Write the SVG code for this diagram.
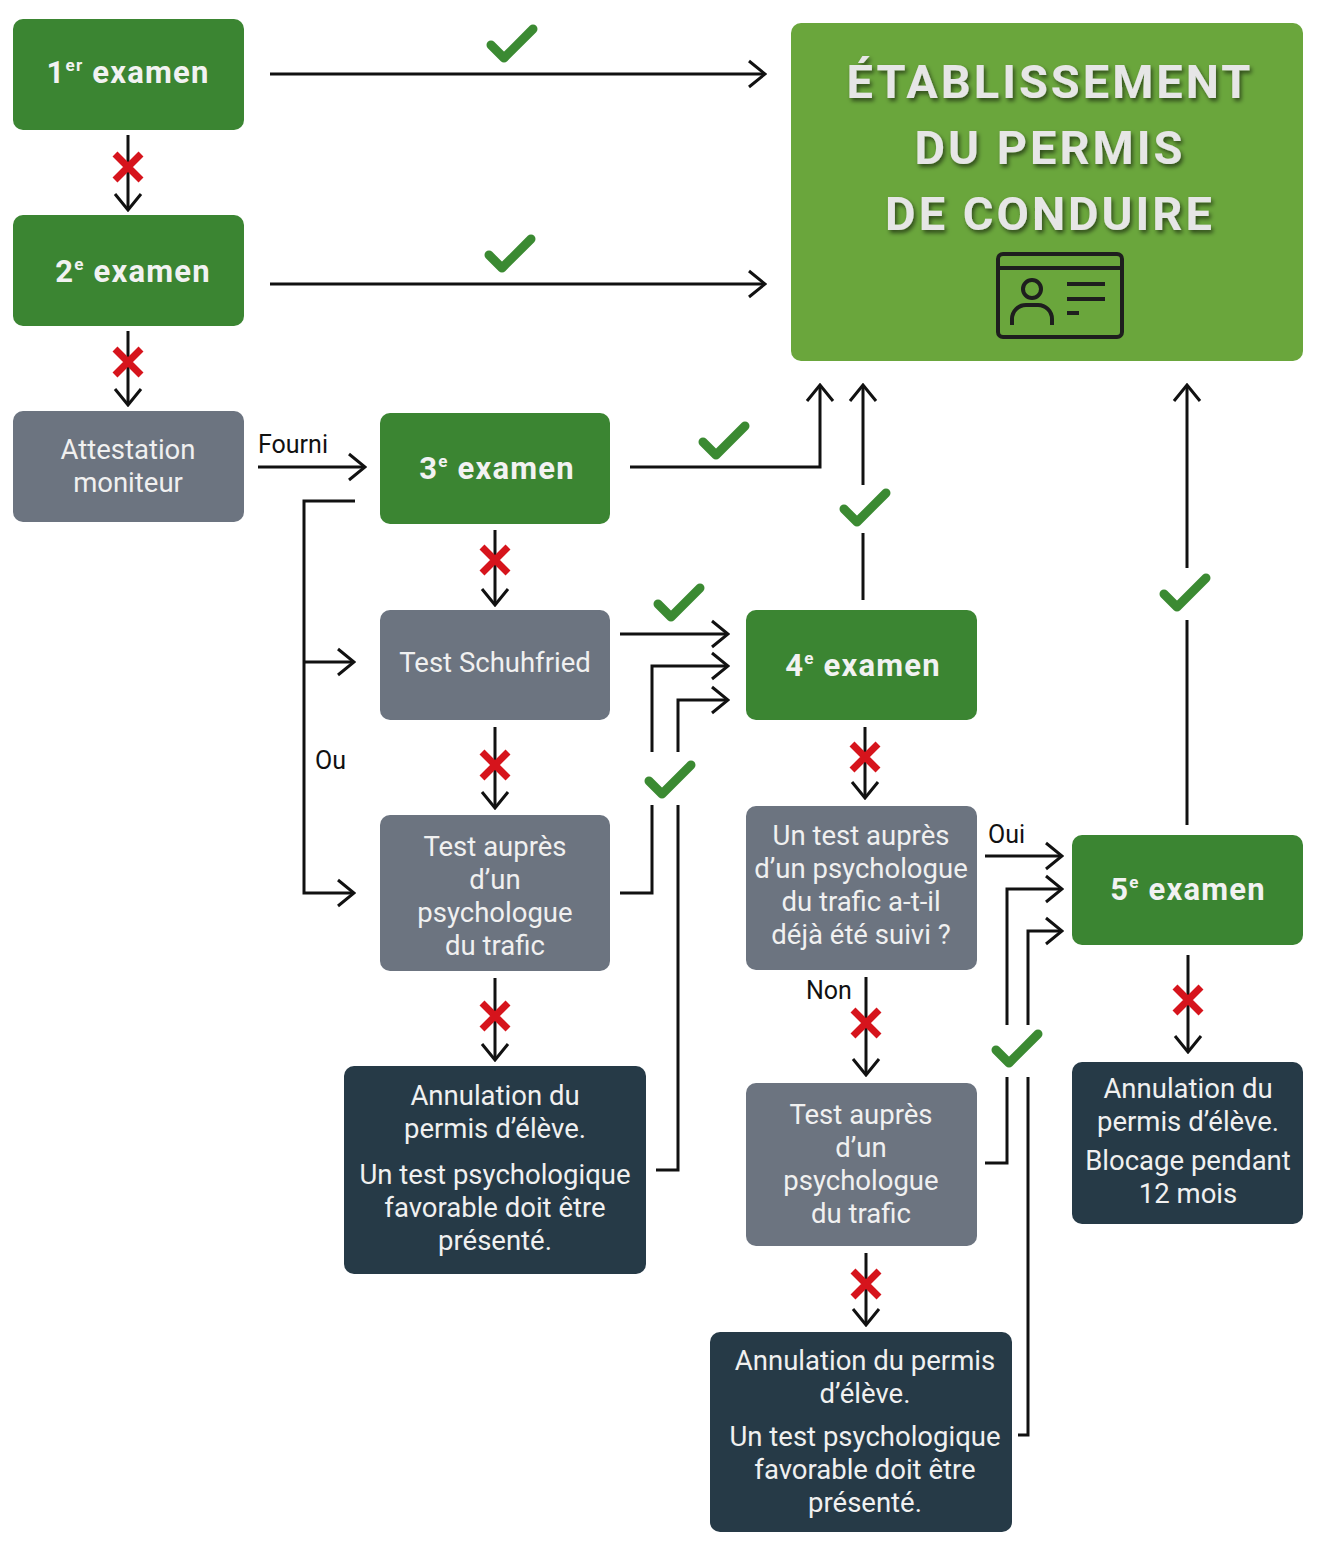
<svg xmlns="http://www.w3.org/2000/svg" width="1320" height="1548" viewBox="0 0 1320 1548">
<style>
.dg{fill:#3b8532}.lg{fill:#6aa63c}.gr{fill:#6c7480}.nv{fill:#263a47}
.t{font-family:Roboto,"Liberation Sans",sans-serif;text-anchor:middle;fill:#f0f0f0;font-size:27.5px}
.b{font-weight:bold;font-size:31px;letter-spacing:1.2px;fill:#f2f2f2}
.l{font-family:Roboto,"Liberation Sans",sans-serif;font-size:25px;fill:#111}
.c{fill:none;stroke:#111;stroke-width:3}
.ck{fill:none;stroke:#3b8a32;stroke-width:9;stroke-linecap:round;stroke-linejoin:round}
.x{stroke:#d6141c;stroke-width:7}
</style>
<defs>
<marker id="a" viewBox="0 0 20 30" refX="18" refY="15" markerWidth="20" markerHeight="30" markerUnits="userSpaceOnUse" orient="auto"><path d="M2,2 L18,15 L2,28" fill="none" stroke="#111" stroke-width="3"/></marker>
<symbol id="ck" overflow="visible"><path class="ck" d="M-21,0 L-8,13 L21,-16"/></symbol>
<symbol id="x" overflow="visible"><path class="x" d="M-13,-13 L13,13 M13,-13 L-13,13"/></symbol>
<filter id="sh"><feDropShadow dx="2" dy="3" stdDeviation="2" flood-color="#000" flood-opacity="0.55"/></filter>
</defs>
<rect width="1320" height="1548" fill="#fff"/>
<g id="n1"><rect class="dg" x="13" y="19" width="231" height="111" rx="10"/><text class="t b" x="128" y="83">1<tspan font-size="17" dy="-12">er</tspan><tspan dy="12"> examen</tspan></text></g>
<g id="n2"><rect class="dg" x="13" y="215" width="231" height="111" rx="10"/><text class="t b" x="133" y="282">2<tspan font-size="17" dy="-12">e</tspan><tspan dy="12"> examen</tspan></text></g>
<g id="att"><rect class="gr" x="13" y="411" width="231" height="111" rx="10"/><text class="t" x="128" y="459">Attestation</text><text class="t" x="128" y="492">moniteur</text></g>
<g id="target"><rect class="lg" x="791" y="23" width="512" height="338" rx="10"/>
<g font-family="Roboto,'Liberation Sans',sans-serif" font-weight="bold" font-size="47" letter-spacing="3" fill="#e6e6e6" text-anchor="middle" filter="url(#sh)"><text x="1050" y="98">ÉTABLISSEMENT</text><text x="1050" y="164">DU PERMIS</text><text x="1050" y="230">DE CONDUIRE</text></g>
<g fill="none" stroke="#1e1e1e" stroke-width="4"><rect x="998" y="254" width="124" height="83" rx="5"/><line x1="998" y1="268" x2="1122" y2="268"/><circle cx="1032" cy="289" r="9"/><path d="M1012,325 v-6 a14,14 0 0 1 14,-14 h12 a14,14 0 0 1 14,14 v6"/><path d="M1067,284 h38 M1067,299 h38 M1067,313 h12"/></g></g>
<g id="n3"><rect class="dg" x="380" y="413" width="230" height="111" rx="10"/><text class="t b" x="497" y="479">3<tspan font-size="17" dy="-12">e</tspan><tspan dy="12"> examen</tspan></text></g>
<g id="schuh"><rect class="gr" x="380" y="610" width="230" height="110" rx="10"/><text class="t" x="495" y="672">Test Schuhfried</text></g>
<g id="psy1"><rect class="gr" x="380" y="815" width="230" height="156" rx="10"/><text class="t" x="495" y="856">Test auprès</text><text class="t" x="495" y="889">d’un</text><text class="t" x="495" y="922">psychologue</text><text class="t" x="495" y="955">du trafic</text></g>
<g id="ann1"><rect class="nv" x="344" y="1066" width="302" height="208" rx="10"/><text class="t" x="495" y="1105">Annulation du</text><text class="t" x="495" y="1138">permis d’élève.</text><text class="t" x="495" y="1184">Un test psychologique</text><text class="t" x="495" y="1217">favorable doit être</text><text class="t" x="495" y="1250">présenté.</text></g>
<g id="n4"><rect class="dg" x="746" y="610" width="231" height="110" rx="10"/><text class="t b" x="863" y="676">4<tspan font-size="17" dy="-12">e</tspan><tspan dy="12"> examen</tspan></text></g>
<g id="q"><rect class="gr" x="746" y="806" width="231" height="164" rx="10"/><text class="t" x="861" y="845">Un test auprès</text><text class="t" x="861" y="878">d’un psychologue</text><text class="t" x="861" y="911">du trafic a-t-il</text><text class="t" x="861" y="944">déjà été suivi ?</text></g>
<g id="psy2"><rect class="gr" x="746" y="1083" width="231" height="163" rx="10"/><text class="t" x="861" y="1124">Test auprès</text><text class="t" x="861" y="1157">d’un</text><text class="t" x="861" y="1190">psychologue</text><text class="t" x="861" y="1223">du trafic</text></g>
<g id="ann2"><rect class="nv" x="710" y="1332" width="302" height="200" rx="10"/><text class="t" x="865" y="1370">Annulation du permis</text><text class="t" x="865" y="1403">d’élève.</text><text class="t" x="865" y="1446">Un test psychologique</text><text class="t" x="865" y="1479">favorable doit être</text><text class="t" x="865" y="1512">présenté.</text></g>
<g id="n5"><rect class="dg" x="1072" y="835" width="231" height="110" rx="10"/><text class="t b" x="1188" y="900">5<tspan font-size="17" dy="-12">e</tspan><tspan dy="12"> examen</tspan></text></g>
<g id="ann3"><rect class="nv" x="1072" y="1062" width="231" height="162" rx="10"/><text class="t" x="1188" y="1098">Annulation du</text><text class="t" x="1188" y="1131">permis d’élève.</text><text class="t" x="1188" y="1170">Blocage pendant</text><text class="t" x="1188" y="1203">12 mois</text></g>
<g id="connectors">
<path class="c" marker-end="url(#a)" d="M270,74 H765"/><use href="#ck" x="512" y="45"/>
<path class="c" marker-end="url(#a)" d="M270,284 H765"/><use href="#ck" x="510" y="255"/>
<path class="c" marker-end="url(#a)" d="M128,135 V210"/><use href="#x" x="128" y="167"/>
<path class="c" marker-end="url(#a)" d="M128,331 V405"/><use href="#x" x="128" y="362"/>
<path class="c" marker-end="url(#a)" d="M258,467 H365"/><text class="l" x="258" y="453">Fourni</text>
<path class="c" marker-end="url(#a)" d="M630,467 H820 V385"/><use href="#ck" x="724" y="442"/>
<path class="c" marker-end="url(#a)" d="M355,501 H304 V893 H354"/><path class="c" marker-end="url(#a)" d="M304,662 H354"/><text class="l" x="315" y="769">Ou</text>
<path class="c" marker-end="url(#a)" d="M495,530 V605"/><use href="#x" x="495" y="560"/>
<path class="c" marker-end="url(#a)" d="M495,727 V808"/><use href="#x" x="495" y="765"/>
<path class="c" marker-end="url(#a)" d="M495,978 V1060"/><use href="#x" x="495" y="1016"/>
<path class="c" marker-end="url(#a)" d="M620,634 H728"/><use href="#ck" x="679" y="604"/>
<path class="c" d="M620,893 H652 V805"/><path class="c" marker-end="url(#a)" d="M652,752 V666 H728"/>
<path class="c" d="M656,1170 H678 V805"/><path class="c" marker-end="url(#a)" d="M678,752 V700 H728"/><use href="#ck" x="670" y="781"/>
<path class="c" d="M863,600 V533"/><path class="c" marker-end="url(#a)" d="M863,485 V385"/><use href="#ck" x="865" y="509"/>
<path class="c" marker-end="url(#a)" d="M865,727 V798"/><use href="#x" x="865" y="757"/>
<path class="c" marker-end="url(#a)" d="M985,856 H1062"/><text class="l" x="988" y="843">Oui</text>
<path class="c" marker-end="url(#a)" d="M866,977 V1075"/><use href="#x" x="866" y="1023"/><text class="l" x="806" y="999">Non</text>
<path class="c" d="M985,1163 H1007 V1077"/><path class="c" marker-end="url(#a)" d="M1007,1025 V889 H1062"/>
<path class="c" d="M1018,1435 H1028 V1077"/><path class="c" marker-end="url(#a)" d="M1028,1025 V931 H1062"/><use href="#ck" x="1017" y="1050"/>
<path class="c" marker-end="url(#a)" d="M866,1253 V1325"/><use href="#x" x="866" y="1284"/>
<path class="c" d="M1187,825 V620"/><path class="c" marker-end="url(#a)" d="M1187,568 V385"/><use href="#ck" x="1185" y="594"/>
<path class="c" marker-end="url(#a)" d="M1188,955 V1052"/><use href="#x" x="1188" y="1000"/>
</g>
</svg>
